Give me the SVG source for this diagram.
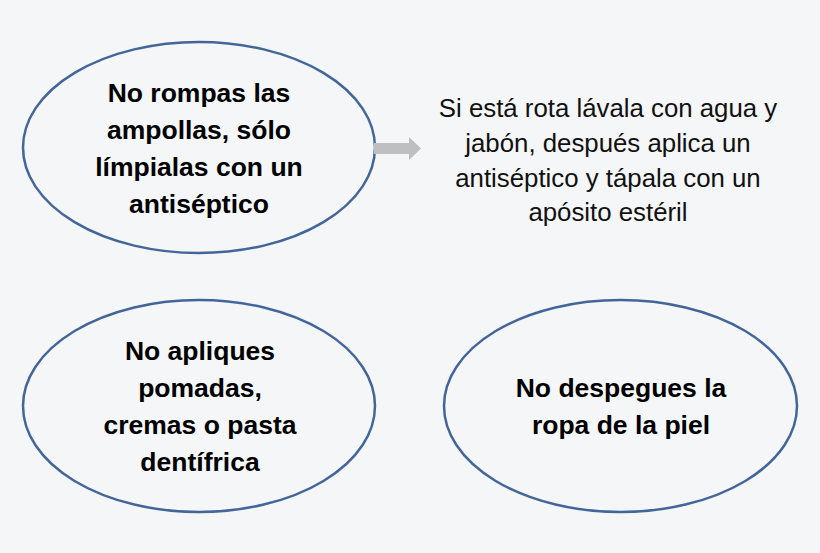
<svg xmlns="http://www.w3.org/2000/svg" width="820" height="553" viewBox="0 0 820 553">
<style>
.node ellipse{fill:#f5f6f7;stroke:#43669a;stroke-width:2.5}
.b{font-family:"Liberation Sans",Arial,sans-serif;font-weight:bold;font-size:26.5px;fill:#000;text-anchor:middle}
.r{font-family:"Liberation Sans",Arial,sans-serif;font-size:25.8px;fill:#111;text-anchor:middle}
</style>
<rect width="820" height="553" fill="#f5f6f7"/>
<g id="n1" class="node">
<ellipse cx="199" cy="147.5" rx="176" ry="105.5"/>
<text class="b" x="199" y="102">No rompas las</text>
<text class="b" x="199" y="139">ampollas, sólo</text>
<text class="b" x="199" y="176">límpialas con un</text>
<text class="b" x="199" y="213">antiséptico</text>
</g>
<g id="n2">
<text class="r" x="608" y="117">Si está rota lávala con agua y</text>
<text class="r" x="608" y="152">jabón, después  aplica un</text>
<text class="r" x="608" y="187">antiséptico y tápala con un</text>
<text class="r" x="608" y="221">apósito estéril</text>
</g>
<g id="n3" class="node">
<ellipse cx="199" cy="406" rx="176" ry="106"/>
<text class="b" x="200" y="360">No apliques</text>
<text class="b" x="200" y="397">pomadas,</text>
<text class="b" x="200" y="434">cremas o pasta</text>
<text class="b" x="200" y="471">dentífrica</text>
</g>
<g id="n4" class="node">
<ellipse cx="620.5" cy="406" rx="176.5" ry="106"/>
<text class="b" x="621" y="397">No despegues la</text>
<text class="b" x="621" y="434">ropa de la piel</text>
</g>
<g id="connectors">
<polygon points="374,143 409,143 409,137 421,148.5 409,160 409,154 374,154" fill="#bfbfbf"/>
</g>
</svg>
